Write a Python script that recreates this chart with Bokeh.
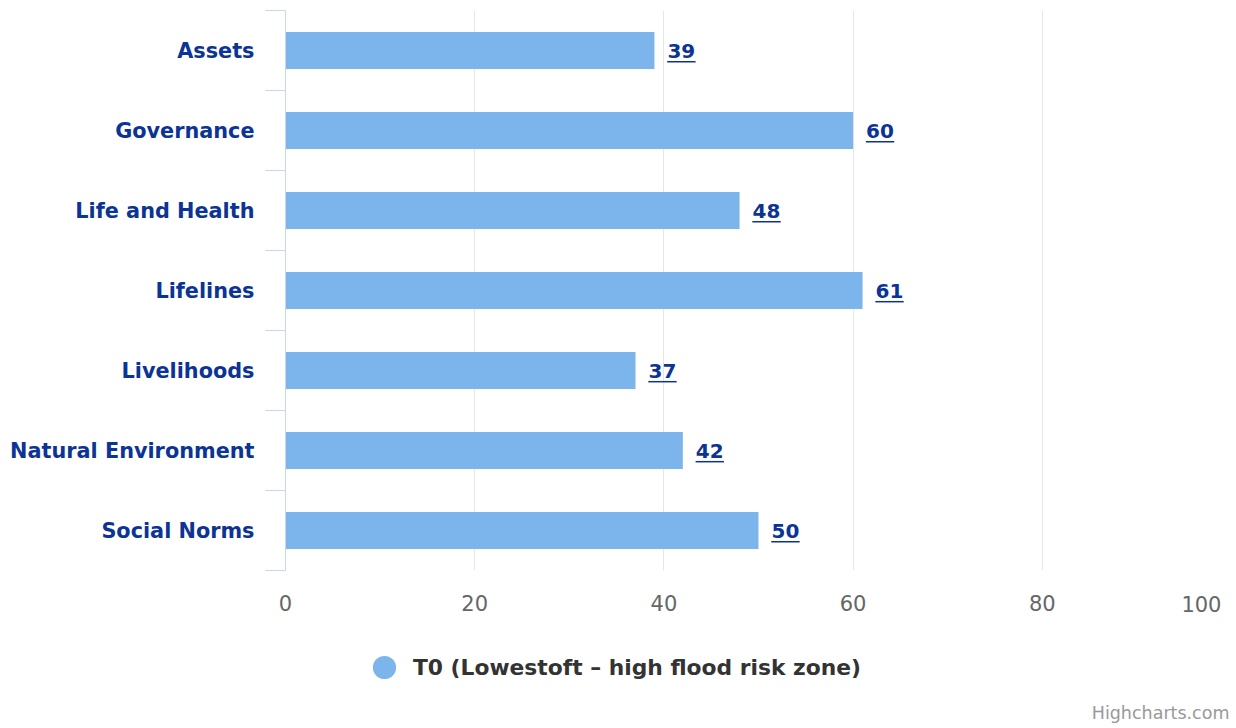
from bokeh.plotting import figure
from bokeh.layouts import column
from bokeh.models import (Range1d, FixedTicker, Legend, LegendItem, LinearAxis,
                          ColumnDataSource, Label)
from bokeh.core.properties import value
from bokeh.embed import file_html
from bokeh.resources import INLINE

# Resilience scores per capital, series T0
categories = ["Assets", "Governance", "Life and Health", "Lifelines",
              "Livelihoods", "Natural Environment", "Social Norms"]
scores = [39, 60, 48, 61, 37, 42, 50]
series_name = "T0 (Lowestoft \u2013 high flood risk zone)"
x_ticks = [0, 20, 40, 60, 80, 100]

BAR = "#7cb5ec"
LINK = "#0c3494"
FONT = "DejaVu Sans"

positions = list(range(1, len(categories) + 1))
source = ColumnDataSource(dict(y=positions, score=scores,
                               label=[str(s) for s in scores]))

# ---- main bar chart ----
p = figure(width=1236, height=618, output_backend="svg", toolbar_location=None,
           x_range=Range1d(0, 100), y_range=Range1d(len(categories) + 0.5, 0.5),
           min_border_left=285, min_border_right=5, min_border_top=10,
           min_border_bottom=48)
p.outline_line_color = None
p.background_fill_color = "white"
p.border_fill_color = "white"

p.hbar(y="y", left=0, right="score", height=0.465, source=source,
       fill_color=BAR, line_color=None)

# value labels to the right of each bar, underlined like links
p.text(x="score", y="y", text="label", source=source, x_offset=13,
       text_baseline="middle", text_align="left", text_font=value(FONT),
       text_font_style="bold", text_font_size="20px", text_color=LINK)
p.segment(x0=[s + 1.35 for s in scores], x1=[s + 4.35 for s in scores],
          y0=[y + 0.14 for y in positions], y1=[y + 0.14 for y in positions],
          line_color=LINK, line_width=1.5)

# category axis: labels at band centres, ticks at band boundaries
ya = p.yaxis[0]
ya.ticker = FixedTicker(ticks=positions,
                        minor_ticks=[i + 0.5 for i in range(len(categories) + 1)])
ya.major_label_overrides = {i: c for i, c in zip(positions, categories)}
ya.axis_line_color = "#ccd6eb"
ya.major_tick_in = 0
ya.major_tick_out = 0
ya.minor_tick_in = 0
ya.minor_tick_out = 20
ya.minor_tick_line_color = "#ccd6eb"
ya.major_label_standoff = 11
ya.major_label_text_font = FONT
ya.major_label_text_font_style = "bold"
ya.major_label_text_font_size = "20.8px"
ya.major_label_text_color = LINK
p.ygrid.grid_line_color = None


def style_value_axis(ax):
    ax.axis_line_color = None
    ax.major_tick_line_color = None
    ax.minor_tick_line_color = None
    ax.major_tick_out = 0
    ax.major_tick_in = 0
    ax.minor_tick_out = 0
    ax.minor_tick_in = 0
    ax.major_label_text_font = FONT
    ax.major_label_text_font_size = "21px"
    ax.major_label_text_color = "#666666"


# value axis; the last label is right-aligned so it stays on the canvas
xa = p.xaxis[0]
xa.ticker = FixedTicker(ticks=x_ticks[:-1])
xa.major_label_standoff = 24
style_value_axis(xa)

xa_end = LinearAxis(ticker=FixedTicker(ticks=x_ticks[-1:]))
style_value_axis(xa_end)
xa_end.major_label_text_align = "right"
xa_end.major_label_standoff = -18
p.add_layout(xa_end, "below")

p.xgrid.ticker = FixedTicker(ticks=x_ticks)
p.xgrid.grid_line_color = "#e6e6e6"

# ---- legend and credits strip (its frame lines up with the chart frame) ----
foot = figure(width=1236, height=110, output_backend="svg", toolbar_location=None,
              x_range=Range1d(0, 100), y_range=Range1d(0, 1),
              x_axis_type=None, y_axis_type=None,
              min_border_left=0, min_border_right=0, min_border_top=0,
              min_border_bottom=0)
foot.outline_line_color = None
foot.grid.visible = False
foot.background_fill_color = "white"
foot.border_fill_color = "white"

# legend swatch renderer: one undrawn point so the legend has a glyph to show
dot = foot.scatter(x=[float("nan")], y=[float("nan")], size=23, marker="circle",
                   fill_color=BAR, line_color=None)
legend = Legend(items=[LegendItem(label=series_name, renderers=[dot])],
                location=(70, 32), orientation="horizontal",
                glyph_width=58, glyph_height=58, label_standoff=-4,
                padding=0, margin=0, spacing=0,
                border_line_color=None, background_fill_alpha=0,
                label_text_font=FONT, label_text_font_style="bold",
                label_text_font_size="21.8px", label_text_color="#333333")
foot.add_layout(legend, "center")

foot.add_layout(Label(x=944, y=16, x_units="screen", y_units="screen",
                      text="Highcharts.com", text_align="right",
                      text_baseline="alphabetic", text_font=FONT,
                      text_font_size="17.5px", text_color="#999999"))

open("out.html", "w").write(file_html(column(p, foot, spacing=0), INLINE))
